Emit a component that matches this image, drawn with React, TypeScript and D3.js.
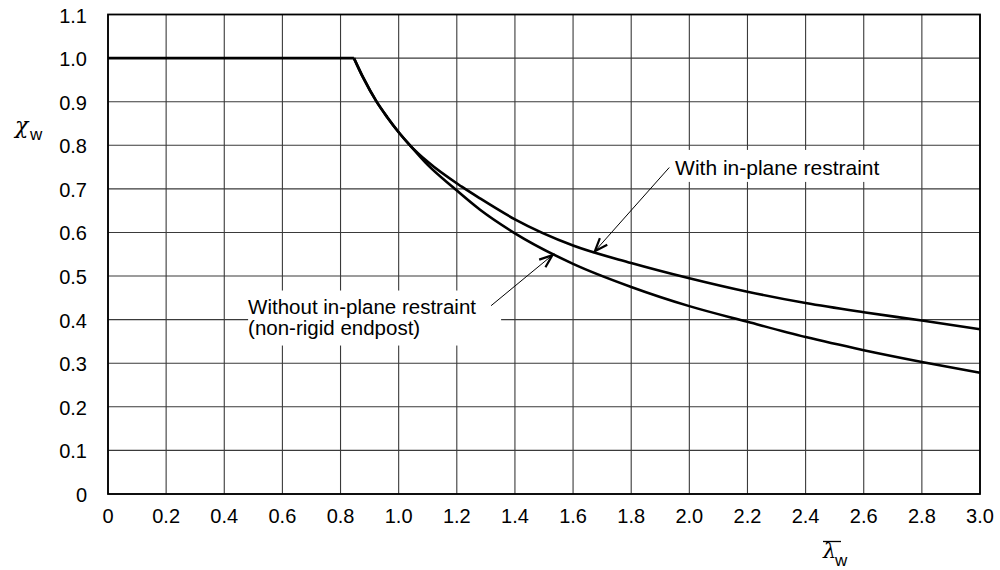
import React from "react";
import * as d3 from "d3";

// ---- data ----
const xTicks = [0, 0.2, 0.4, 0.6, 0.8, 1.0, 1.2, 1.4, 1.6, 1.8, 2.0, 2.2, 2.4, 2.6, 2.8, 3.0];
const xTickLabels = ["0", "0.2", "0.4", "0.6", "0.8", "1.0", "1.2", "1.4", "1.6", "1.8", "2.0", "2.2", "2.4", "2.6", "2.8", "3.0"];
const yTicks = [0, 0.1, 0.2, 0.3, 0.4, 0.5, 0.6, 0.7, 0.8, 0.9, 1.0, 1.1];
const yTickLabels = ["0", "0.1", "0.2", "0.3", "0.4", "0.5", "0.6", "0.7", "0.8", "0.9", "1.0", "1.1"];

// shared plateau + start of the descending branch
const sharedLambda = [0, 0.846, 0.878, 0.924, 0.96, 1.0, 1.039];
const sharedChi = [1, 1, 0.955, 0.9, 0.865, 0.83, 0.8];

// with in-plane restraint
const withLambda = [1.1, 1.217, 1.28, 1.4, 1.6, 1.8, 2.0, 2.2, 2.4, 2.6, 2.8, 3.0];
const withChi = [0.762, 0.705, 0.678, 0.63, 0.57, 0.53, 0.495, 0.464, 0.438, 0.417, 0.398, 0.378];

// without in-plane restraint (non-rigid endpost)
const withoutLambda = [1.1, 1.188, 1.28, 1.4, 1.6, 1.8, 2.0, 2.2, 2.4, 2.6, 2.8, 3.0];
const withoutChi = [0.755, 0.703, 0.652, 0.598, 0.528, 0.475, 0.431, 0.395, 0.36, 0.33, 0.303, 0.278];

// annotation anchors (data space)
const withLabel = { text: "With in-plane restraint", x: 1.951, y: 0.732, ax: 1.931, ay: 0.749, tx: 1.675, ty: 0.557 };
const withoutLabel = {
  lines: ["Without in-plane restraint", "(non-rigid endpost)"],
  x: 0.482, y: 0.414, ax: 1.318, ay: 0.432, tx: 1.529, ty: 0.548,
};

const FONT = "'Liberation Sans', Arial, Helvetica, sans-serif";

export default function App() {
  const W = 1000, H = 570;
  const x = d3.scaleLinear().domain([0, 3.0]).range([108, 980]);
  const y = d3.scaleLinear().domain([0, 1.1]).range([494, 14.5]);

  const toPts = (ls: number[], cs: number[]) => ls.map((l, i) => [l, cs[i]] as [number, number]);
  const plateauEnd = sharedChi.lastIndexOf(1);
  const flat = toPts(sharedLambda.slice(0, plateauEnd + 1), sharedChi.slice(0, plateauEnd + 1));
  const curveStart = toPts(sharedLambda.slice(plateauEnd), sharedChi.slice(plateauEnd));
  const withPts = curveStart.concat(toPts(withLambda, withChi));
  const withoutPts = curveStart.concat(toPts(withoutLambda, withoutChi));

  const lineLin = d3.line<[number, number]>().x(d => x(d[0])).y(d => y(d[1]));
  const lineSmooth = d3.line<[number, number]>().x(d => x(d[0])).y(d => y(d[1])).curve(d3.curveMonotoneX);

  const arrow = (ax: number, ay: number, tx: number, ty: number) => {
    const x1 = x(ax), y1 = y(ay), x2 = x(tx), y2 = y(ty);
    const ang = Math.atan2(y2 - y1, x2 - x1);
    const L = 14, spread = 0.36;
    const b1 = [x2 - L * Math.cos(ang - spread), y2 - L * Math.sin(ang - spread)];
    const b2 = [x2 - L * Math.cos(ang + spread), y2 - L * Math.sin(ang + spread)];
    return (
      <g>
        <line x1={x1} y1={y1} x2={x2} y2={y2} stroke="#000" strokeWidth={1} />
        <path d={`M${b1[0]},${b1[1]} L${x2},${y2} L${b2[0]},${b2[1]}`} fill="none" stroke="#000" strokeWidth={2.2} strokeLinejoin="miter" />
      </g>
    );
  };

  const wx = x(withLabel.x), wy = y(withLabel.y);
  const ox = x(withoutLabel.x), oy = y(withoutLabel.y);

  return (
    <svg width={W} height={H} style={{ position: "absolute", left: 0, top: 0, background: "#fff" }} fontFamily={FONT}>
      <rect x={0} y={0} width={W} height={H} fill="#fff" />
      {/* grid */}
      <g stroke="#3a3a3a" strokeWidth={1.1}>
        {xTicks.map((t, i) => (
          <line key={"vx" + i} x1={x(t)} x2={x(t)} y1={y(0)} y2={y(1.1)} />
        ))}
        {yTicks.map((t, i) => (
          <line key={"hy" + i} x1={x(0)} x2={x(3)} y1={y(t)} y2={y(t)} />
        ))}
      </g>
      {/* label boxes that hide the grid */}
      <rect x={wx - 5} y={wy - 25} width={220} height={32} fill="#fff" />
      <rect x={ox} y={oy - 23} width={253} height={55} fill="#fff" />
      {/* frame */}
      <rect x={x(0)} y={y(1.1)} width={x(3) - x(0)} height={y(0) - y(1.1)} fill="none" stroke="#000" strokeWidth={1.8} />
      {/* curves */}
      <path d={lineLin(flat) || ""} fill="none" stroke="#000" strokeWidth={2.6} />
      <path d={lineSmooth(withPts) || ""} fill="none" stroke="#000" strokeWidth={2.6} />
      <path d={lineSmooth(withoutPts) || ""} fill="none" stroke="#000" strokeWidth={2.6} />
      {/* tick labels */}
      <g fontSize={20} fill="#000">
        {yTicks.map((t, i) => (
          <text key={"yl" + i} x={87} y={y(t) + 8} textAnchor="end">{yTickLabels[i]}</text>
        ))}
        {xTicks.map((t, i) => (
          <text key={"xl" + i} x={x(t)} y={523} textAnchor="middle">{xTickLabels[i]}</text>
        ))}
      </g>
      {/* annotations */}
      <text x={wx} y={wy} fontSize={21} fill="#000">{withLabel.text}</text>
      {arrow(withLabel.ax, withLabel.ay, withLabel.tx, withLabel.ty)}
      {withoutLabel.lines.map((s, i) => (
        <text key={"wo" + i} x={ox} y={oy + i * 21} fontSize={20.5} fill="#000">{s}</text>
      ))}
      {arrow(withoutLabel.ax, withoutLabel.ay, withoutLabel.tx, withoutLabel.ty)}
      {/* axis titles */}
      <text x={15} y={133} fontSize={22} fontStyle="italic" fontFamily="'DejaVu Serif', serif" fill="#000">χ</text>
      <text x={30} y={140} fontSize={17} fill="#000">w</text>
      <text x={823} y={558} fontSize={21} fontStyle="italic" fontFamily="'DejaVu Serif', serif" fill="#000">λ</text>
      <line x1={823} x2={841} y1={541.5} y2={541.5} stroke="#000" strokeWidth={1.3} />
      <text x={835} y={566} fontSize={17} fill="#000">w</text>
    </svg>
  );
}
